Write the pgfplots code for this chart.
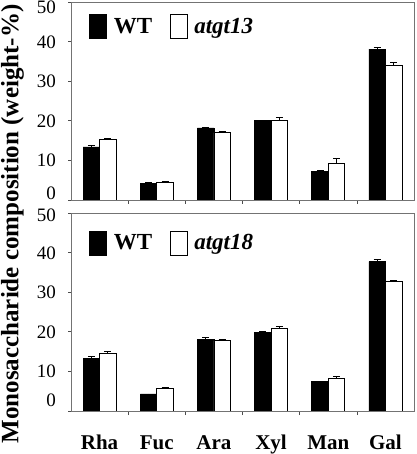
\documentclass[border=0pt]{standalone}
\usepackage{fontspec}
\setmainfont{Liberation Serif}
\usepackage{pgfplots}
\usepackage{pgfplotstable}
\pgfplotsset{compat=1.18}
\pgfplotstableread{
x wt wte mu mue
0 13.4 0.4 15.3 0.3
1 4.2 0.2 4.4 0.3
2 18.2 0.2 17.0 0.3
3 20.0 0.1 20.1 0.8
4 7.2 0.3 9.2 1.3
5 38.1 0.4 34.0 0.7
}\topdata
\pgfplotstableread{
x wt wte mu mue
0 13.3 0.4 14.6 0.5
1 4.3 0.0 5.7 0.2
2 18.1 0.5 17.8 0.3
3 19.8 0.2 21.0 0.3
4 7.4 0.0 8.3 0.5
5 37.7 0.6 32.7 0.2
}\botdata
\newcommand\lowraise{7pt}
\newcommand\highdrop{-5.5pt}
\begin{document}
\begin{tikzpicture}
\path[use as bounding box] (0,0) rectangle (416pt,454pt);
\pgfplotsset{
  mybars/.style={
    scale only axis, width=343pt, height=198pt,
    ybar, bar width=16.5pt,
    xmin=-0.5, xmax=5.5, ymin=0, ymax=50,
    ytick={0,10,...,50},
    xtick={0,...,5}, minor x tick num=1,
    major x tick style={draw=none},
    tick pos=left,
    tick align=outside,
    major tick length=3pt, minor tick length=4pt,
    axis line style={draw=black!55, line width=0.8pt},
    tick style={draw=black!70, line width=0.6pt},
    /pgf/number format/assume math mode=true,
    yticklabel style={font=\fontsize{19}{19}\selectfont, anchor=base east, inner sep=0pt, xshift=-12pt, yshift=-6.5pt},
    yticklabel={\ifnum\ticknum=0 \raisebox{\lowraise}{\pgfmathprintnumber{\tick}}\else\ifnum\ticknum=5 \raisebox{\highdrop}{\pgfmathprintnumber{\tick}}\else\pgfmathprintnumber{\tick}\fi\fi},
    xticklabel style={font=\fontsize{21}{21}\selectfont\bfseries, anchor=base, inner sep=0pt},
    legend columns=2,
    legend style={draw=none, fill=none, inner sep=0pt, anchor=west,
      font=\fontsize{23}{23}\selectfont\bfseries,
      nodes={inner sep=0pt},
      /tikz/every even column/.append style={column sep=18pt}},
    error bars/y dir=plus, error bars/y explicit,
    error bars/error bar style={black, line width=0.8pt},
    error bars/error mark options={rotate=90, mark size=3.5pt, black, line width=0.8pt},
  },
  wtbar/.style={fill=black, draw=black, line width=0.6pt, bar shift=-8.25pt,
    legend image code/.code={\fill[black] (0pt,-12pt) rectangle (17pt,12pt); \path (24pt,0pt);}},
  mubar/.style={fill=white, draw=black, line width=0.6pt, bar shift=8.25pt,
    legend image code/.code={\draw[black, line width=0.6pt, fill=white] (0pt,-12pt) rectangle (16.5pt,12pt); \path (23.5pt,0pt);}},
}
\begin{axis}[mybars, at={(71pt,254pt)}, anchor=south west,
  xticklabels={},
  legend style={at={(0.0525,0.875)}}]
\addplot[wtbar] table[x=x, y=wt, y error=wte] {\topdata};
\addplot[mubar] table[x=x, y=mu, y error=mue] {\topdata};
\legend{WT, \textit{atgt13}}
\end{axis}
\renewcommand\lowraise{11pt}
\renewcommand\highdrop{-2.5pt}
\begin{axis}[mybars, at={(71pt,43pt)}, anchor=south west,
  xticklabels={Rha, Fuc, Ara, Xyl, Man, Gal},
  xticklabel style={yshift=-35pt},
  legend style={at={(0.0525,0.848)}}]
\addplot[wtbar] table[x=x, y=wt, y error=wte] {\botdata};
\addplot[mubar] table[x=x, y=mu, y error=mue] {\botdata};
\legend{WT, \textit{atgt18}}
\end{axis}
\node[rotate=90, inner sep=0pt, font=\fontsize{25}{25}\selectfont\bfseries] at (12.5pt,230pt) {Monosaccharide composition (weight-\%)};
\end{tikzpicture}
\end{document}
